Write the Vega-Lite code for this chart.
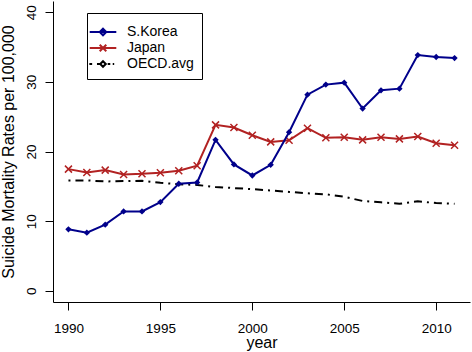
{
  "$schema": "https://vega.github.io/schema/vega-lite/v6.json",
  "width": 417,
  "height": 301,
  "autosize": {"type": "none"},
  "padding": {"left": 53, "top": 1, "right": 2, "bottom": 50},
  "background": "white",
  "config": {
    "view": {"stroke": null},
    "font": "Liberation Sans",
    "axis": {
      "grid": false,
      "domainColor": "black",
      "domainWidth": 1,
      "tickColor": "black",
      "tickWidth": 1,
      "tickSize": 8,
      "labelColor": "black",
      "labelFont": "Liberation Sans",
      "labelFontSize": 13.5,
      "titleColor": "black",
      "titleFont": "Liberation Sans",
      "titleFontSize": 16,
      "titleFontWeight": "normal"
    },
    "legend": {
      "orient": "none",
      "legendX": 34,
      "legendY": 12,
      "strokeColor": "black",
      "strokeWidth": 1,
      "padding": 8,
      "cornerRadius": 0,
      "labelFont": "Liberation Sans",
      "labelFontSize": 14,
      "labelColor": "black",
      "labelOffset": 16,
      "rowPadding": -5.5,
      "symbolSize": 196,
      "symbolStrokeWidth": 2,
      "titleFontSize": 3,
      "titlePadding": 0
    }
  },
  "data": {
    "values": [
      {"year": 1990, "series": "S.Korea", "rate": 8.83},
      {"year": 1991, "series": "S.Korea", "rate": 8.35},
      {"year": 1992, "series": "S.Korea", "rate": 9.5},
      {"year": 1993, "series": "S.Korea", "rate": 11.4},
      {"year": 1994, "series": "S.Korea", "rate": 11.4},
      {"year": 1995, "series": "S.Korea", "rate": 12.74},
      {"year": 1996, "series": "S.Korea", "rate": 15.37},
      {"year": 1997, "series": "S.Korea", "rate": 15.56},
      {"year": 1998, "series": "S.Korea", "rate": 21.67},
      {"year": 1999, "series": "S.Korea", "rate": 18.14},
      {"year": 2000, "series": "S.Korea", "rate": 16.56},
      {"year": 2001, "series": "S.Korea", "rate": 18.09},
      {"year": 2002, "series": "S.Korea", "rate": 22.77},
      {"year": 2003, "series": "S.Korea", "rate": 28.16},
      {"year": 2004, "series": "S.Korea", "rate": 29.6},
      {"year": 2005, "series": "S.Korea", "rate": 29.88},
      {"year": 2006, "series": "S.Korea", "rate": 26.16},
      {"year": 2007, "series": "S.Korea", "rate": 28.78},
      {"year": 2008, "series": "S.Korea", "rate": 29.02},
      {"year": 2009, "series": "S.Korea", "rate": 33.84},
      {"year": 2010, "series": "S.Korea", "rate": 33.56},
      {"year": 2011, "series": "S.Korea", "rate": 33.41},
      {"year": 1990, "series": "Japan", "rate": 17.47},
      {"year": 1991, "series": "Japan", "rate": 16.99},
      {"year": 1992, "series": "Japan", "rate": 17.33},
      {"year": 1993, "series": "Japan", "rate": 16.71},
      {"year": 1994, "series": "Japan", "rate": 16.8},
      {"year": 1995, "series": "Japan", "rate": 16.95},
      {"year": 1996, "series": "Japan", "rate": 17.23},
      {"year": 1997, "series": "Japan", "rate": 17.95},
      {"year": 1998, "series": "Japan", "rate": 23.82},
      {"year": 1999, "series": "Japan", "rate": 23.44},
      {"year": 2000, "series": "Japan", "rate": 22.34},
      {"year": 2001, "series": "Japan", "rate": 21.38},
      {"year": 2002, "series": "Japan", "rate": 21.62},
      {"year": 2003, "series": "Japan", "rate": 23.34},
      {"year": 2004, "series": "Japan", "rate": 21.96},
      {"year": 2005, "series": "Japan", "rate": 22.05},
      {"year": 2006, "series": "Japan", "rate": 21.67},
      {"year": 2007, "series": "Japan", "rate": 22.05},
      {"year": 2008, "series": "Japan", "rate": 21.81},
      {"year": 2009, "series": "Japan", "rate": 22.15},
      {"year": 2010, "series": "Japan", "rate": 21.19},
      {"year": 2011, "series": "Japan", "rate": 20.91},
      {"year": 1990, "series": "OECD.avg", "rate": 15.85},
      {"year": 1991, "series": "OECD.avg", "rate": 15.85},
      {"year": 1992, "series": "OECD.avg", "rate": 15.7},
      {"year": 1993, "series": "OECD.avg", "rate": 15.75},
      {"year": 1994, "series": "OECD.avg", "rate": 15.8},
      {"year": 1995, "series": "OECD.avg", "rate": 15.5},
      {"year": 1996, "series": "OECD.avg", "rate": 15.3},
      {"year": 1997, "series": "OECD.avg", "rate": 15.2},
      {"year": 1998, "series": "OECD.avg", "rate": 14.9},
      {"year": 1999, "series": "OECD.avg", "rate": 14.75},
      {"year": 2000, "series": "OECD.avg", "rate": 14.6},
      {"year": 2001, "series": "OECD.avg", "rate": 14.4},
      {"year": 2002, "series": "OECD.avg", "rate": 14.2},
      {"year": 2003, "series": "OECD.avg", "rate": 14.0},
      {"year": 2004, "series": "OECD.avg", "rate": 13.85},
      {"year": 2005, "series": "OECD.avg", "rate": 13.5},
      {"year": 2006, "series": "OECD.avg", "rate": 12.9},
      {"year": 2007, "series": "OECD.avg", "rate": 12.7},
      {"year": 2008, "series": "OECD.avg", "rate": 12.5},
      {"year": 2009, "series": "OECD.avg", "rate": 12.85},
      {"year": 2010, "series": "OECD.avg", "rate": 12.6},
      {"year": 2011, "series": "OECD.avg", "rate": 12.5}
    ]
  },
  "encoding": {
    "x": {
      "field": "year",
      "type": "quantitative",
      "scale": {"domain": [1989.16, 2011.84], "nice": false, "zero": false},
      "axis": {"values": [1990, 1995, 2000, 2005, 2010], "format": "d", "title": "year", "labelPadding": 11, "titlePadding": 0}
    },
    "y": {
      "field": "rate",
      "type": "quantitative",
      "scale": {"domain": [-1.6, 41.6], "nice": false, "zero": false},
      "axis": {
        "values": [0, 10, 20, 30, 40],
        "title": "Suicide Mortality Rates per 100,000",
        "labelAngle": -90,
        "labelAlign": "center",
        "labelBaseline": "bottom",
        "labelPadding": 7,
        "titlePadding": 8
      }
    }
  },
  "layer": [
    {
      "transform": [{"filter": "datum.series === 'OECD.avg'"}],
      "mark": {"type": "line", "color": "black", "strokeWidth": 2, "strokeDash": [2, 5, 8, 5]}
    },
    {
      "transform": [{"filter": "datum.series === 'Japan'"}],
      "mark": {"type": "line", "color": "#B22222", "strokeWidth": 2}
    },
    {
      "transform": [{"filter": "datum.series === 'Japan'"}],
      "mark": {"type": "point", "shape": "M-1,-1L1,1M-1,1L1,-1", "filled": false, "color": "#B22222", "strokeWidth": 1.5, "size": 49, "opacity": 1}
    },
    {
      "transform": [{"filter": "datum.series === 'S.Korea'"}],
      "mark": {"type": "line", "color": "#00008B", "strokeWidth": 2}
    },
    {
      "transform": [{"filter": "datum.series === 'S.Korea'"}],
      "mark": {"type": "point", "shape": "diamond", "filled": true, "color": "#00008B", "size": 40, "opacity": 1}
    },
    {
      "mark": {"type": "point", "filled": false, "opacity": 0, "size": 196, "strokeWidth": 2},
      "encoding": {
        "color": {
          "field": "series",
          "type": "nominal",
          "title": " ",
          "scale": {"domain": ["S.Korea", "Japan", "OECD.avg"], "range": ["#00008B", "#B22222", "black"]}
        },
        "shape": {
          "field": "series",
          "type": "nominal",
          "title": " ",
          "scale": {
            "domain": ["S.Korea", "Japan", "OECD.avg"],
            "range": [
              "M-1.9,0H1.9M0,-0.47L0.47,0L0,0.47L-0.47,0Z",
              "M-1.9,0H1.9M-0.47,-0.47L0.47,0.47M-0.47,0.47L0.47,-0.47",
              "M-1.95,0H-1.55M-0.86,0H-0.4M0.67,0H1.04M1.39,0H1.6M0,-0.4L0.4,0L0,0.4L-0.4,0Z"
            ]
          }
        }
      }
    }
  ]
}
